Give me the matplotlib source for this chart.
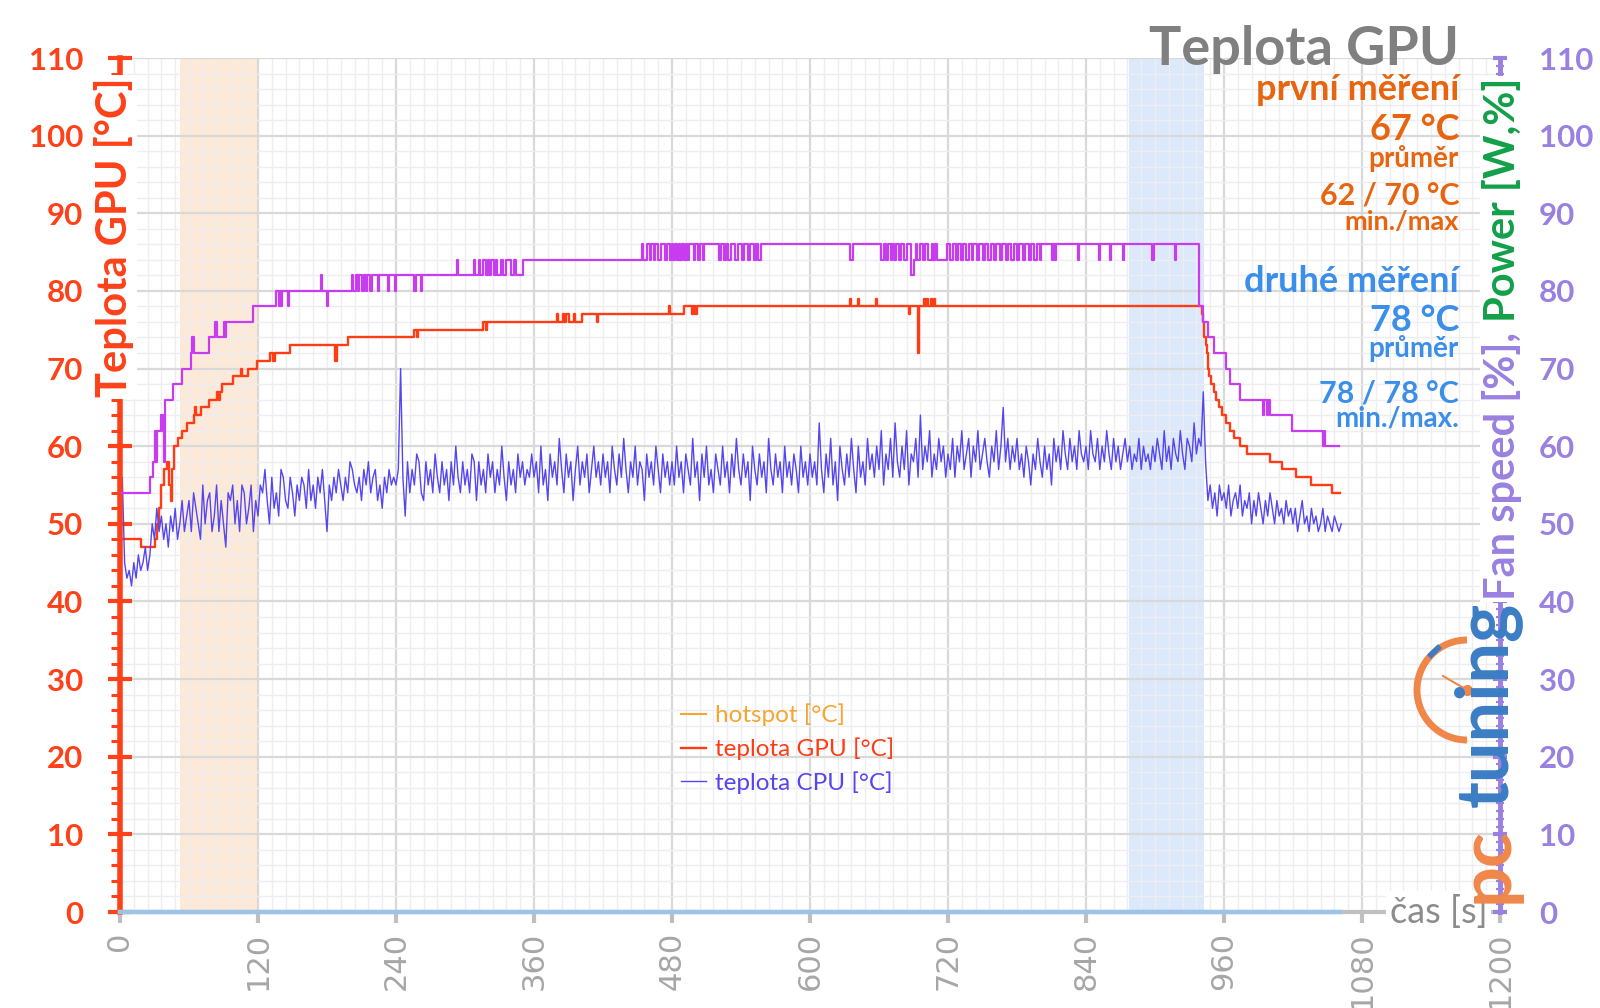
import numpy as np
import matplotlib
matplotlib.use("Agg")
from matplotlib import pyplot as plt
from matplotlib.patches import Arc
from matplotlib.ticker import MultipleLocator
from matplotlib.transforms import blended_transform_factory

plt.rcParams["font.family"] = ["Lato", "DejaVu Sans"]

# ---------------- data ----------------
time_ticks = list(range(0, 1201, 120))
temp_ticks = list(range(0, 111, 10))

first_window = (52, 120)
second_window = (877, 943)

# GPU temperature, step changes (time s, °C)
gpu_steps = [
    (0, 48), (18, 47), (30, 48), (32, 50), (34, 52), (36, 55), (38, 57), (41, 58),
    (43, 55), (44, 53), (45, 57), (47, 60), (50, 61), (54, 62), (58, 63), (64, 64),
    (65, 65), (66, 64), (70, 65), (77, 66), (84, 67), (86, 66), (87, 67), (89, 68),
    (98, 69), (105, 70), (106, 69), (111, 70), (119, 71), (130, 72), (133, 71),
    (135, 72), (148, 73), (187, 71), (189, 73), (198, 74), (256, 75), (258, 74),
    (259, 75), (316, 76), (318, 75), (319, 76), (380, 77), (381, 76), (385, 77),
    (386, 76), (388, 77), (390, 76), (395, 77), (396, 76), (402, 77), (415, 76),
    (416, 77), (477, 78), (478, 77), (490, 78), (497, 77), (498, 78), (500, 77),
    (502, 78), (635, 79), (636, 78), (642, 79), (643, 78), (657, 79), (658, 78),
    (686, 77), (687, 78), (694, 72), (695, 78), (699, 79), (700, 78), (702, 79),
    (703, 78), (705, 79), (706, 78), (708, 79), (709, 78), (941, 77), (942, 76),
    (943, 74), (944, 73), (945, 72), (946, 70), (947, 69), (949, 68), (951, 67),
    (953, 66), (956, 65), (958, 64), (962, 63), (965, 62), (969, 61), (974, 60),
    (980, 59), (1000, 58), (1010, 57), (1023, 56), (1036, 55), (1054, 54), (1061, 54),
]

# fan speed [%], step changes (time s, %)
fan_steps = [
    (0, 54), (26, 56), (29, 58), (30, 62), (31, 58), (32, 62), (36, 64), (37, 62),
    (38, 58), (39, 66), (46, 68), (54, 70), (62, 72), (63, 74), (64, 72), (77, 74),
    (83, 76), (84, 74), (90, 76), (91, 74), (92, 76), (116, 78), (136, 80), (138, 78),
    (139, 80), (140, 78), (141, 80), (146, 78), (147, 80), (175, 82), (176, 80),
    (180, 78), (181, 80), (202, 82), (203, 80), (205, 82), (207, 80), (208, 82),
    (210, 80), (212, 82), (214, 80), (215, 82), (217, 80), (219, 82), (224, 80),
    (225, 82), (233, 80), (234, 82), (239, 80), (240, 82), (256, 80), (257, 82),
    (262, 80), (263, 82), (293, 84), (294, 82), (308, 84), (309, 82), (312, 84),
    (313, 82), (316, 84), (318, 82), (320, 84), (321, 82), (323, 84), (325, 82),
    (327, 84), (328, 82), (331, 84), (333, 82), (336, 84), (340, 82), (343, 84),
    (344, 82), (350, 84), (454, 86), (455, 84), (458, 86), (461, 84), (462, 86),
    (464, 84), (465, 86), (468, 84), (470, 86), (474, 84), (476, 86), (478, 84),
    (480, 86), (481, 84), (483, 86), (484, 84), (486, 86), (487, 84), (489, 86),
    (490, 84), (492, 86), (493, 84), (495, 86), (499, 84), (500, 86), (503, 84),
    (504, 86), (507, 84), (508, 86), (521, 84), (523, 86), (525, 84), (527, 86),
    (529, 84), (531, 86), (535, 84), (537, 86), (541, 84), (543, 86), (546, 84),
    (548, 86), (551, 84), (553, 86), (555, 84), (557, 86), (635, 84), (637, 86),
    (662, 84), (664, 86), (666, 84), (668, 86), (670, 84), (671, 86), (673, 84),
    (675, 86), (677, 84), (679, 86), (682, 84), (684, 86), (688, 82), (690, 84),
    (692, 86), (693, 84), (696, 86), (698, 84), (700, 86), (703, 84), (706, 86),
    (707, 84), (709, 86), (710, 84), (719, 86), (722, 84), (724, 86), (727, 84),
    (729, 86), (731, 84), (733, 86), (736, 84), (738, 86), (741, 84), (742, 86),
    (745, 84), (747, 86), (750, 84), (752, 86), (755, 84), (757, 86), (760, 84),
    (762, 86), (765, 84), (767, 86), (770, 84), (772, 86), (775, 84), (777, 86),
    (780, 84), (782, 86), (785, 84), (787, 86), (790, 84), (792, 86), (795, 84),
    (797, 86), (800, 84), (801, 86), (810, 84), (811, 86), (813, 84), (814, 86),
    (833, 84), (834, 86), (851, 84), (852, 86), (861, 84), (862, 86), (872, 84),
    (873, 86), (897, 84), (899, 86), (917, 84), (918, 86), (938, 78), (942, 76),
    (946, 74), (951, 72), (962, 70), (965, 68), (974, 66), (994, 64), (995, 66),
    (997, 64), (998, 66), (1000, 64), (1019, 62), (1046, 60), (1047, 62), (1048, 60),
    (1060, 60),
]

# CPU temperature [°C], one reading every 2 s (one row = 60 s)
cpu_step_s = 2
cpu_temp = [
    44, 56, 45, 43, 44, 42, 45, 43, 46, 44, 45, 47, 44, 46, 50, 48, 52, 49, 51, 48,
    50, 47, 51, 49, 52, 48, 50, 53, 49, 51,
    53, 49, 54, 52, 50, 48, 55, 50, 53, 54, 49, 51, 55, 49, 53, 50, 47, 54, 53, 55,
    50, 53, 49, 55, 54, 50, 52, 55, 49, 53,
    51, 55, 54, 57, 53, 50, 56, 52, 54, 51, 57, 56, 53, 52, 56, 54, 51, 55, 53, 56,
    55, 52, 57, 53, 55, 52, 56, 54, 57, 53,
    49, 55, 53, 56, 54, 57, 55, 53, 56, 54, 58, 57, 55, 54, 56, 53, 57, 55, 58, 54,
    56, 57, 53, 55, 52, 56, 54, 57, 55, 56,
    55, 57, 70, 56, 51, 58, 54, 57, 55, 59, 58, 54, 53, 58, 55, 57, 54, 59, 56, 54,
    58, 55, 57, 53, 58, 55, 60, 56, 54, 58,
    55, 57, 54, 59, 58, 53, 58, 55, 57, 54, 59, 56, 58, 54, 57, 55, 60, 56, 53, 58,
    55, 57, 54, 59, 56, 58, 55, 57, 56, 59,
    56, 58, 54, 60, 55, 57, 53, 59, 56, 58, 55, 61, 57, 54, 59, 56, 58, 53, 57, 60,
    55, 58, 56, 59, 54, 57, 60, 56, 58, 55,
    59, 56, 58, 54, 60, 57, 55, 59, 56, 61, 57, 54, 58, 56, 60, 55, 58, 57, 53, 59,
    56, 58, 55, 60, 57, 54, 59, 56, 58, 55,
    58, 55, 60, 56, 58, 54, 59, 57, 55, 61, 56, 58, 53, 59, 56, 60, 55, 57, 54, 59,
    57, 55, 60, 56, 58, 54, 59, 56, 61, 57,
    55, 59, 56, 58, 53, 60, 57, 55, 59, 56, 58, 54, 61, 57, 55, 59, 56, 58, 54, 60,
    56, 58, 55, 59, 57, 54, 60, 56, 58, 55,
    59, 56, 58, 55, 63, 57, 54, 59, 56, 61, 55, 58, 53, 60, 57, 55, 59, 56, 61, 57,
    54, 60, 56, 58, 55, 61, 57, 59, 56, 60,
    57, 62, 55, 59, 57, 61, 56, 63, 58, 56, 60, 57, 62, 55, 59, 58, 61, 56, 64, 57,
    60, 58, 62, 56, 59, 57, 61, 58, 60, 56,
    59, 57, 61, 56, 60, 58, 62, 57, 59, 61, 56, 60, 58, 62, 57, 59, 61, 58, 56, 60,
    58, 62, 57, 60, 65, 58, 61, 57, 60, 58,
    61, 57, 59, 56, 60, 58, 55, 59, 57, 61, 58, 56, 60, 57, 59, 55, 61, 58, 60, 57,
    62, 59, 57, 61, 58, 60, 57, 62, 59, 58,
    60, 57, 62, 59, 58, 61, 57, 60, 58, 62, 59, 57, 61, 58, 60, 57, 59, 61, 58, 60,
    57, 59, 58, 61, 57, 60, 58, 59, 57, 60,
    58, 61, 59, 57, 62, 58, 60, 57, 61, 59, 58, 62, 59, 57, 61, 60, 58, 63, 59, 61,
    60, 67, 58, 53, 55, 52, 54, 51, 55, 53,
    54, 52, 55, 51, 53, 54, 52, 55, 51, 53, 52, 54, 50, 53, 51, 54, 52, 50, 53, 51,
    54, 52, 50, 53, 51, 52, 50, 53, 51, 52,
    50, 52, 49, 51, 53, 50, 51, 49, 52, 50, 51, 49, 50, 52, 49, 51, 50, 49, 51, 50,
    49, 50,
]

# light blue baseline series lying on 0 for the duration of the run
baseline_t = [0, 1061]
baseline_v = [0, 0]

# ---------------- colours ----------------
C_GPU = "#ff3c14"
C_FAN = "#c83cf0"
C_CPU = "#5546ee"
C_HOT = "#f7a531"
C_LEFT = "#ff4119"
C_RIGHT = "#9a80e0"
C_FIRST = "#e8650f"
C_SECOND = "#3b8fe8"
C_GRAY = "#808080"

gpu_t, gpu_v = zip(*gpu_steps)
fan_t, fan_v = zip(*fan_steps)
cpu_t = np.arange(len(cpu_temp)) * cpu_step_s

fig = plt.figure(figsize=(16, 10.08), dpi=100)
ax = fig.add_axes([120 / 1600, 96 / 1008, 1380 / 1600, 854 / 1008])
ax2 = ax.twinx()

ax.set_xlim(0, 1200)
ax.set_ylim(0, 110)
ax2.set_ylim(0, 110)

# shaded measuring windows
ax.axvspan(*first_window, color="#fde9d8", zorder=0.3, lw=0)
ax.axvspan(*second_window, color="#dce9fb", zorder=0.3, lw=0)

# grid
ax.set_axisbelow(True)
ax.xaxis.set_minor_locator(MultipleLocator(12))
ax.yaxis.set_minor_locator(MultipleLocator(2))
ax.grid(which="major", color="#d9d9d9", lw=1.6)
ax.grid(which="minor", color="#ededf2", lw=1.0)

# series
ax.plot([], [], color=C_HOT, lw=1.5, label="hotspot [°C]")
ax.plot(gpu_t, gpu_v, drawstyle="steps-post", color=C_GPU, lw=1.7, label="teplota GPU [°C]")
ax.plot(cpu_t, cpu_temp, color=C_CPU, lw=1.0, label="teplota CPU [°C]")
ax.plot(baseline_t, baseline_v, color="#9dc3e6", lw=3.2, clip_on=False, zorder=3)
ax2.plot(fan_t, fan_v, drawstyle="steps-post", color=C_FAN, lw=1.6)

# spines
ax.spines["top"].set_visible(False)
ax.spines["right"].set_visible(False)
ax.spines["left"].set_color(C_LEFT)
ax.spines["left"].set_linewidth(4)
ax.spines["bottom"].set_color("#bfbfbf")
ax.spines["bottom"].set_linewidth(3)
for side in ("left", "top", "bottom"):
    ax2.spines[side].set_visible(False)
ax2.spines["right"].set_color(C_RIGHT)
ax2.spines["right"].set_linewidth(3.5)

# x ticks
ax.set_xticks(time_ticks, labels=[str(t) for t in time_ticks], rotation=90,
              fontfamily="DejaVu Sans", fontsize=22, color="#a6a6a6")
ax.tick_params(axis="x", which="major", direction="out", length=8, width=3,
               color="#bfbfbf", pad=6)
ax.tick_params(axis="x", which="minor", length=0)

# left y ticks
ax.set_yticks(temp_ticks, labels=[str(v) for v in temp_ticks], fontsize=22.5,
              fontweight="bold", color=C_LEFT)
ax.tick_params(axis="y", which="major", direction="inout", length=17, width=3,
               color=C_LEFT, pad=18)
ax.tick_params(axis="y", which="minor", direction="out", length=6.5, width=2.2,
               color=C_LEFT)

# right y ticks
ax2.yaxis.set_minor_locator(MultipleLocator(1))
ax2.set_yticks(temp_ticks, labels=[str(v) for v in temp_ticks], fontsize=22.5,
               fontweight="bold", color=C_RIGHT)
ax2.tick_params(axis="y", which="major", direction="inout", length=10, width=3,
                color=C_RIGHT, pad=23)
ax2.tick_params(axis="y", which="minor", direction="inout", length=6, width=1.6,
                color=C_RIGHT)

# axis labels sitting on the spines
bbox_w = dict(boxstyle="square,pad=0.05", fc="white", ec="none")
tr_l = blended_transform_factory(ax.transAxes, ax.transData)
ax.text(-0.004, 107.5, "Teplota GPU [°C]", transform=tr_l, rotation=90,
        ha="center", va="top", fontsize=30, fontweight="bold", color=C_LEFT,
        bbox=bbox_w, zorder=10, clip_on=False)
tr_r = blended_transform_factory(ax2.transAxes, ax2.transData)
ax2.text(1.0015, 76, "Fan speed [%], ", transform=tr_r, rotation=90,
         ha="center", va="top", fontsize=30, fontweight="bold", color=C_RIGHT,
         bbox=bbox_w, zorder=10, clip_on=False)
ax2.text(1.0015, 76, "Power [W,%]", transform=tr_r, rotation=90,
         ha="center", va="bottom", fontsize=30, fontweight="bold", color="#13a04a",
         bbox=bbox_w, zorder=10, clip_on=False)
ax.text(1189, 0, "čas [s]", ha="right", va="center", fontsize=26, color="#8c8c8c",
        bbox=dict(boxstyle="square,pad=0.1", fc="white", ec="none"),
        zorder=10, clip_on=False)

# legend
ax.legend(loc="upper left", bbox_to_anchor=(0.398, 0.258), frameon=False,
          fontsize=17.5, handlelength=1.0, handletextpad=0.4, labelspacing=0.45,
          borderpad=0, labelcolor="linecolor")

# overlay in pixel coordinates for the annotations and logo
ov = fig.add_axes([0, 0, 1, 1], zorder=10)
ov.set_xlim(0, 1600)
ov.set_ylim(1008, 0)
ov.set_axis_off()

notes = [
    ("Teplota GPU", 65, 39, C_GRAY),
    ("první měření", 100, 26, C_FIRST),
    ("67 °C", 140, 26, C_FIRST),
    ("průměr", 167, 20, C_FIRST),
    ("62 / 70 °C", 205, 22, C_FIRST),
    ("min./max", 230, 19.5, C_FIRST),
    ("druhé měření", 292, 26, C_SECOND),
    ("78 °C", 331, 26, C_SECOND),
    ("průměr", 357, 20, C_SECOND),
    ("78 / 78 °C", 403, 22, C_SECOND),
    ("min./max.", 426, 20, C_SECOND),
]
for text, y, size, col in notes:
    ov.text(1459, y, text, ha="right", va="baseline", fontsize=size,
            fontweight="bold", color=col)

# pctuning logo (drawn under the right axis ticks)
C_LOGO_O = "#f0874a"
C_LOGO_B = "#3b7dc4"
ax2.add_patch(Arc((1467, 690), 100, 100, theta1=90, theta2=270, color=C_LOGO_O,
                  lw=5, transform=ov.transData, clip_on=False))
ax2.plot([1467, 1443], [690, 676], color=C_LOGO_O, lw=1.5, transform=ov.transData,
         clip_on=False)
ax2.plot([1467], [690], "o", color=C_LOGO_O, ms=7, transform=ov.transData,
         clip_on=False)
ax2.plot([1431, 1438], [655, 648], color=C_LOGO_B, lw=4, transform=ov.transData,
         clip_on=False)
ax2.text(1487, 602, "tuning", rotation=90, ha="center", va="top", fontsize=52,
         fontweight="bold", color=C_LOGO_B, transform=ov.transData, clip_on=False)
ax2.text(1487, 903, "pc", rotation=90, ha="center", va="bottom", fontsize=52,
         fontweight="bold", color=C_LOGO_O, transform=ov.transData, clip_on=False)

fig.savefig("out.png", dpi=100, facecolor="white")
